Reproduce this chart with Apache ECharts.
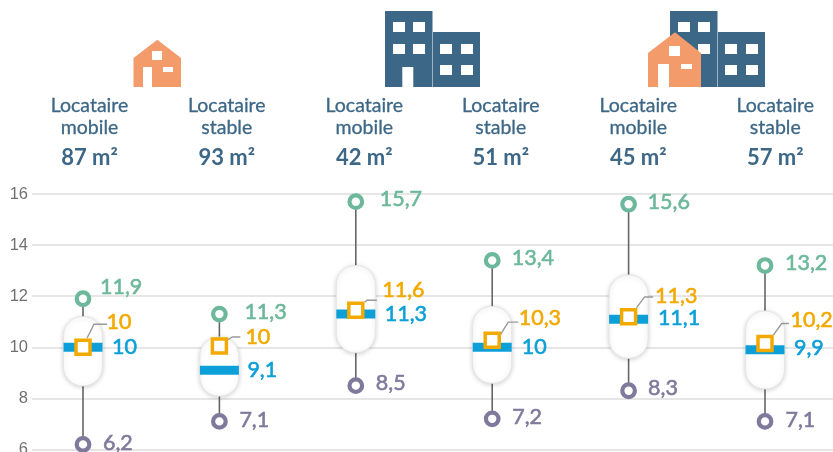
<!DOCTYPE html>
<html>
<head>
<meta charset="utf-8">
<style>
  html, body { margin: 0; padding: 0; background: #fff; }
  #chart { width: 833px; height: 452px; }
</style>
</head>
<body>
<div id="chart"></div>
<script src="https://cdn.jsdelivr.net/npm/echarts@6/dist/echarts.min.js"></script>
<script>
// header texts
var tenants = ['Locataire\nmobile', 'Locataire\nstable', 'Locataire\nmobile', 'Locataire\nstable', 'Locataire\nmobile', 'Locataire\nstable'];
var surfaces = ['87 m²', '93 m²', '42 m²', '51 m²', '45 m²', '57 m²'];

// values
var highs = [11.9, 11.3, 15.7, 13.4, 15.6, 13.2];
var lows = [6.2, 7.1, 8.5, 7.2, 8.3, 7.1];
var medians = [10, 9.1, 11.3, 10, 11.1, 9.9];
var boxTops = [11.2, 10.4, 13.2, 11.6, 12.83, 11.42];
var boxBottoms = [8.49, 8.09, 9.79, 8.59, 9.57, 8.37];
// the orange square is printed with one value and placed slightly apart from it
var meanSpots = [10, 10.05, 11.45, 10.28, 11.2, 10.15];
var meanLabels = ['10', '10', '11,6', '10,3', '11,3', '10,2'];

// label placement, px from the mark (not data)
var highShift = [[17, -12], [25, -2], [24, -2.4], [19.5, -2], [19, -2], [20, -2]];
var lowShift = [[20, -1.7], [20, -1.4], [20, -3], [20, -2], [19.5, -2.7], [20.5, -1.4]];
var medShift = [[29, 0], [28, 0], [29, 0], [29.5, 0], [29.3, -1], [29, -2]];
var meanShift = [[23.5, -25], [26, -9], [26.5, -20], [26.5, -22], [26.5, -21], [25.5, -23]];
// leader of the orange label: start, elbow, end, px from the square
var leaders = [
  [[4, -9], [11, -23], [24, -23]],
  [[8, -6], [13, -9], [21, -9]],
  [[9, -8], [11, -10], [21, -10]],
  [[8, -5], [16, -18], [26, -18]],
  [[8, -9], [16, -19.7], [24.6, -19.7]],
  [[8.3, -8.3], [16.7, -20], [24, -20]]
];

var BLUE_DARK = '#3d6786';
var ORANGE = '#f49b6b';
var GREEN = '#6db89a';
var PURPLE = '#7f7a9c';
var BLUE = '#0d9fd8';
var YELLOW = '#f2a900';
var FONT = 'Lato';

function num(v) {
  return String(v).replace('.', ',');
}

function poly(points, fill) {
  return { type: 'polygon', shape: { points: points }, style: { fill: fill }, silent: true };
}
function box(x, y, w, h, fill) {
  return { type: 'rect', shape: { x: x, y: y, width: w, height: h }, style: { fill: fill }, silent: true };
}

// building pair, dx = horizontal shift
function buildings(dx) {
  var out = [
    box(385 + dx, 11, 47.5, 76, BLUE_DARK),
    box(433 + dx, 32, 47, 55, BLUE_DARK)
  ];
  [[393, 22], [413, 22], [393, 44], [413, 44], [440, 44], [461, 44], [440, 65], [461, 65]].forEach(function (w) {
    out.push(box(w[0] + dx, w[1], 12, 10, '#fff'));
  });
  out.push(box(402.3 + dx, 67, 11, 20, '#fff'));
  return out;
}

var graphics = [];
// small house
graphics.push(poly([[157.3, 39.7], [181, 58], [181, 87], [133.5, 87], [133.5, 58]], ORANGE));
graphics.push(box(152, 51, 10, 9, '#fff'), box(163, 67, 10, 5, '#fff'), box(143, 67, 9, 20, '#fff'));
graphics = graphics.concat(buildings(0), buildings(285));
// house in front of the buildings
graphics.push(poly([[675, 32.3], [701, 53], [701, 87], [648, 87], [648, 53]], ORANGE));
graphics.push(box(669, 46, 11, 10, '#fff'), box(681, 64, 11, 5, '#fff'), box(658, 64, 11, 23, '#fff'));

var headerX = [89.5, 226.8, 364.3, 500.8, 638.3, 775.3];
headerX.forEach(function (x, i) {
  graphics.push({
    type: 'text', x: x, y: 116.5, silent: true,
    style: {
      text: tenants[i], fill: BLUE_DARK, font: '19.5px ' + FONT,
      stroke: BLUE_DARK, lineWidth: 0.3,
      textAlign: 'center', textVerticalAlign: 'middle', lineHeight: 22.5
    }
  });
  graphics.push({
    type: 'text', x: x, y: 158, silent: true,
    style: {
      text: surfaces[i], fill: BLUE_DARK, font: 'bold 22px ' + FONT,
      textAlign: 'center', textVerticalAlign: 'middle'
    }
  });
});

function label(x, y, text, color) {
  return {
    type: 'text', x: x, y: y,
    style: {
      text: text, fill: color, font: '21.5px ' + FONT, stroke: color, lineWidth: 0.6,
      textAlign: 'left', textVerticalAlign: 'middle'
    }
  };
}

function ring(p, color) {
  return {
    type: 'circle', shape: { cx: p[0], cy: p[1], r: 6.3 },
    style: { fill: '#fff', stroke: color, lineWidth: 4.2 }
  };
}

function renderItem(params, api) {
  var i = api.value(0);
  var hi = api.coord([i, api.value(1)]);
  var lo = api.coord([i, api.value(2)]);
  var top = api.coord([i, api.value(3)]);
  var bottom = api.coord([i, api.value(4)]);
  var med = api.coord([i, api.value(5)]);
  var mean = api.coord([i, api.value(6)]);
  var w = 39;
  var sq = 14;
  var lead = leaders[i].map(function (d) { return [mean[0] + d[0], mean[1] + d[1]]; });
  return {
    type: 'group',
    children: [
      { type: 'line', shape: { x1: hi[0], y1: hi[1], x2: lo[0], y2: lo[1] }, style: { stroke: '#666', lineWidth: 1.6 } },
      {
        type: 'rect',
        shape: { x: hi[0] - w / 2, y: top[1], width: w, height: bottom[1] - top[1], r: 19 },
        style: { fill: '#fff', stroke: '#e6e6e6', lineWidth: 1, shadowBlur: 5, shadowColor: 'rgba(0,0,0,0.18)', shadowOffsetY: 1 }
      },
      { type: 'rect', shape: { x: med[0] - w / 2, y: med[1] - 4.5, width: w, height: 9 }, style: { fill: BLUE } },
      { type: 'polyline', shape: { points: lead }, style: { stroke: '#999', lineWidth: 1.4, fill: null } },
      {
        type: 'rect', shape: { x: mean[0] - sq / 2, y: mean[1] - sq / 2, width: sq, height: sq },
        style: { fill: '#fff', stroke: YELLOW, lineWidth: 3.5 }
      },
      ring(hi, GREEN),
      ring(lo, PURPLE),
      label(hi[0] + highShift[i][0], hi[1] + highShift[i][1], num(api.value(1)), GREEN),
      label(lo[0] + lowShift[i][0], lo[1] + lowShift[i][1], num(api.value(2)), PURPLE),
      label(med[0] + medShift[i][0], med[1] + medShift[i][1], num(api.value(5)), BLUE),
      label(mean[0] + meanShift[i][0], mean[1] + meanShift[i][1], meanLabels[i], YELLOW)
    ]
  };
}

var rows = highs.map(function (h, i) {
  return [i, h, lows[i], boxTops[i], boxBottoms[i], medians[i], meanSpots[i]];
});

var chart = echarts.init(document.getElementById('chart'), null, { renderer: 'canvas' });
chart.setOption({
  animation: false,
  graphic: { elements: graphics },
  grid: { left: 32, right: 0, top: 194, bottom: 2.5, outerBoundsMode: 'none' },
  xAxis: { type: 'value', min: -0.3739, max: 5.4985, show: false },
  yAxis: {
    type: 'value', min: 6, max: 16, interval: 2,
    axisLine: { show: false },
    axisTick: { show: false },
    axisLabel: {
      color: '#707070', fontFamily: 'Liberation Sans', fontSize: 16.5,
      margin: 4, padding: [0, 0, 7, 0]
    },
    splitLine: { lineStyle: { color: '#dedede', width: 1.5 } }
  },
  series: [{
    type: 'custom',
    clip: false,
    renderItem: renderItem,
    data: rows,
    encode: { x: 0, y: 1 }
  }]
});
</script>
</body>
</html>
